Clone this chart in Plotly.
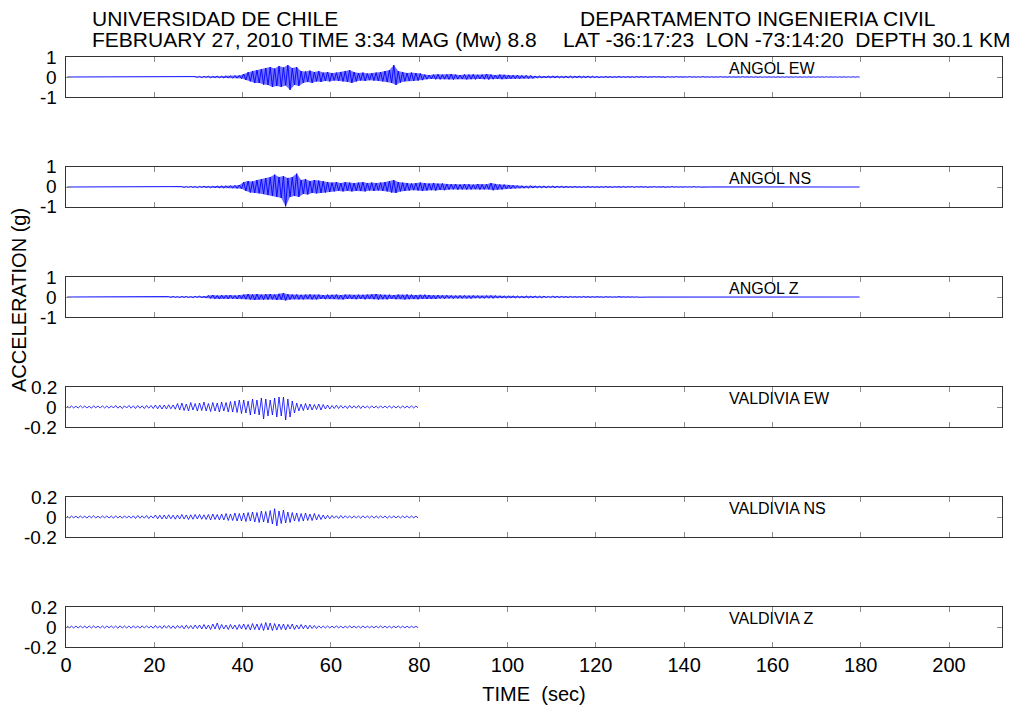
import numpy as np
import plotly.graph_objects as go

# Peak acceleration (g) per 1-second window: positive peak and negative peak.
# ANGOL records: 180 s, VALDIVIA records: 80 s.
angol_ew_up = [
    0, 0, 0, 0, 0, 0, 0, 0, 0, 0,
    0, 0, 0, 0, 0, 0, 0, 0, 0, 0,
    0, 0, 0, 0, 0, 0, 0, 0, 0, 0.02,
    0.03, 0.03, 0.04, 0.03, 0.05, 0.04, 0.06, 0.05, 0.07, 0.08,
    0.15, 0.25, 0.3, 0.35, 0.4, 0.45, 0.5, 0.42, 0.55, 0.48,
    0.6, 0.45, 0.5, 0.3, 0.28, 0.32, 0.25, 0.3, 0.22, 0.25,
    0.2, 0.22, 0.25, 0.3, 0.35, 0.25, 0.2, 0.22, 0.18, 0.2,
    0.22, 0.25, 0.3, 0.35, 0.6, 0.3, 0.25, 0.2, 0.22, 0.2,
    0.18, 0.12, 0.1, 0.12, 0.14, 0.12, 0.13, 0.15, 0.12, 0.1,
    0.13, 0.12, 0.14, 0.11, 0.12, 0.15, 0.12, 0.1, 0.12, 0.11,
    0.1, 0.09, 0.1, 0.08, 0.09, 0.08, 0.05, 0.06, 0.04, 0.05,
    0.06, 0.05, 0.04, 0.05, 0.06, 0.04, 0.05, 0.04, 0.05, 0.04,
    0.03, 0.02, 0.03, 0.02, 0.02, 0.03, 0.02, 0.02, 0.02, 0.03,
    0.02, 0.02, 0.01, 0.02, 0.02, 0.01, 0.02, 0.01, 0.02, 0.01,
    0.01, 0.02, 0.01, 0.01, 0.02, 0.01, 0.01, 0.01, 0.02, 0.01,
    0.01, 0.01, 0.01, 0.02, 0.01, 0.01, 0.01, 0.01, 0.01, 0.01,
    0.01, 0.01, 0.01, 0.01, 0.01, 0.01, 0.01, 0.01, 0.01, 0.01,
    0.01, 0.01, 0.01, 0.01, 0.01, 0.01, 0.01, 0.01, 0.01, 0.01,
]
angol_ew_dn = [
    0, 0, 0, 0, 0, 0, 0, 0, 0, 0,
    0, 0, 0, 0, 0, 0, 0, 0, 0, 0,
    0, 0, 0, 0, 0, 0, 0, 0, 0, -0.02,
    -0.03, -0.02, -0.04, -0.03, -0.04, -0.05, -0.05, -0.06, -0.06, -0.08,
    -0.15, -0.22, -0.3, -0.3, -0.38, -0.4, -0.5, -0.45, -0.5, -0.42,
    -0.65, -0.4, -0.45, -0.3, -0.25, -0.3, -0.22, -0.25, -0.2, -0.22,
    -0.18, -0.2, -0.22, -0.25, -0.3, -0.22, -0.18, -0.2, -0.16, -0.18,
    -0.2, -0.22, -0.25, -0.3, -0.4, -0.28, -0.22, -0.2, -0.2, -0.18,
    -0.16, -0.11, -0.1, -0.12, -0.12, -0.11, -0.12, -0.13, -0.11, -0.1,
    -0.12, -0.11, -0.12, -0.1, -0.11, -0.13, -0.11, -0.1, -0.11, -0.1,
    -0.09, -0.08, -0.09, -0.07, -0.08, -0.07, -0.05, -0.05, -0.04, -0.05,
    -0.05, -0.04, -0.04, -0.05, -0.05, -0.04, -0.04, -0.04, -0.04, -0.03,
    -0.03, -0.02, -0.02, -0.02, -0.02, -0.02, -0.02, -0.02, -0.02, -0.02,
    -0.01, -0.02, -0.01, -0.01, -0.01, -0.02, -0.01, -0.01, -0.01, -0.01,
    -0.01, -0.01, -0.01, -0.01, -0.01, -0.01, -0.01, -0.01, -0.01, -0.01,
    -0.01, -0.01, -0.01, -0.01, -0.01, -0.01, -0.01, -0.01, -0.01, -0.01,
    -0.01, -0.01, -0.01, -0.01, -0.01, -0.01, -0.01, -0.01, -0.01, -0.01,
    -0.01, -0.01, -0.01, -0.01, -0.01, -0.01, -0.01, -0.01, -0.01, -0.01,
]
angol_ns_up = [
    0, 0, 0, 0, 0, 0, 0, 0, 0, 0,
    0, 0, 0, 0, 0, 0, 0, 0, 0, 0,
    0, 0, 0, 0, 0, 0, 0.02, 0.02, 0.03, 0.02,
    0.03, 0.04, 0.03, 0.04, 0.05, 0.05, 0.06, 0.07, 0.08, 0.1,
    0.25, 0.3, 0.28, 0.35, 0.4, 0.45, 0.5, 0.62, 0.5, 0.55,
    0.45, 0.5, 0.67, 0.35, 0.4, 0.3, 0.35, 0.32, 0.3, 0.25,
    0.22, 0.25, 0.2, 0.25, 0.22, 0.2, 0.22, 0.25, 0.2, 0.22,
    0.2, 0.22, 0.25, 0.3, 0.35, 0.25, 0.22, 0.2, 0.18, 0.2,
    0.22, 0.2, 0.18, 0.2, 0.17, 0.18, 0.15, 0.14, 0.15, 0.13,
    0.15, 0.14, 0.12, 0.15, 0.13, 0.14, 0.2, 0.15, 0.13, 0.12,
    0.1, 0.08, 0.07, 0.06, 0.05, 0.06, 0.05, 0.04, 0.05, 0.04,
    0.05, 0.04, 0.04, 0.03, 0.02, 0.03, 0.02, 0.02, 0.03, 0.02,
    0.02, 0.02, 0.03, 0.02, 0.02, 0.02, 0.03, 0.02, 0.02, 0.02,
    0.02, 0.02, 0.01, 0.02, 0.01, 0.02, 0.01, 0.02, 0.01, 0.01,
    0.01, 0.01, 0.02, 0.01, 0, 0, 0, 0, 0, 0,
    0, 0, 0, 0, 0, 0, 0, 0, 0, 0,
    0, 0, 0, 0, 0, 0, 0, 0, 0, 0,
    0, 0, 0, 0, 0, 0, 0, 0, 0, 0,
]
angol_ns_dn = [
    0, 0, 0, 0, 0, 0, 0, 0, 0, 0,
    0, 0, 0, 0, 0, 0, 0, 0, 0, 0,
    0, 0, 0, 0, 0, 0, -0.02, -0.02, -0.02, -0.03,
    -0.02, -0.03, -0.04, -0.03, -0.04, -0.05, -0.05, -0.06, -0.07, -0.09,
    -0.2, -0.28, -0.3, -0.32, -0.35, -0.4, -0.45, -0.5, -0.55, -0.97,
    -0.5, -0.45, -0.5, -0.35, -0.38, -0.3, -0.32, -0.3, -0.28, -0.25,
    -0.22, -0.2, -0.22, -0.2, -0.22, -0.2, -0.2, -0.22, -0.18, -0.2,
    -0.18, -0.2, -0.22, -0.28, -0.3, -0.22, -0.2, -0.18, -0.16, -0.18,
    -0.2, -0.18, -0.16, -0.18, -0.15, -0.16, -0.13, -0.12, -0.14, -0.12,
    -0.13, -0.12, -0.11, -0.13, -0.12, -0.12, -0.16, -0.13, -0.12, -0.1,
    -0.09, -0.07, -0.06, -0.05, -0.05, -0.05, -0.04, -0.04, -0.04, -0.03,
    -0.04, -0.03, -0.03, -0.02, -0.02, -0.02, -0.02, -0.02, -0.02, -0.02,
    -0.02, -0.02, -0.02, -0.02, -0.01, -0.02, -0.02, -0.01, -0.02, -0.01,
    -0.01, -0.02, -0.01, -0.01, -0.01, -0.02, -0.01, -0.01, -0.01, -0.01,
    -0.01, -0.01, -0.01, -0.01, 0, 0, 0, 0, 0, 0,
    0, 0, 0, 0, 0, 0, 0, 0, 0, 0,
    0, 0, 0, 0, 0, 0, 0, 0, 0, 0,
    0, 0, 0, 0, 0, 0, 0, 0, 0, 0,
]
angol_z_up = [
    0, 0, 0, 0, 0, 0, 0, 0, 0, 0,
    0, 0, 0, 0, 0, 0, 0, 0, 0, 0,
    0, 0, 0, 0.02, 0.03, 0.02, 0.03, 0.03, 0.02, 0.03,
    0.04, 0.03, 0.08, 0.1, 0.08, 0.1, 0.09, 0.1, 0.08, 0.1,
    0.12, 0.15, 0.13, 0.15, 0.12, 0.14, 0.15, 0.13, 0.16, 0.2,
    0.14, 0.12, 0.13, 0.11, 0.12, 0.13, 0.11, 0.12, 0.1, 0.12,
    0.11, 0.12, 0.1, 0.12, 0.11, 0.1, 0.12, 0.11, 0.12, 0.13,
    0.15, 0.12, 0.11, 0.12, 0.1, 0.12, 0.11, 0.13, 0.12, 0.1,
    0.11, 0.12, 0.1, 0.09, 0.1, 0.08, 0.09, 0.08, 0.07, 0.08,
    0.08, 0.07, 0.08, 0.07, 0.06, 0.07, 0.08, 0.07, 0.06, 0.05,
    0.05, 0.06, 0.05, 0.04, 0.05, 0.04, 0.05, 0.04, 0.04, 0.03,
    0.04, 0.03, 0.03, 0.02, 0.03, 0.02, 0.02, 0.03, 0.02, 0.02,
    0.02, 0.01, 0.02, 0.01, 0.01, 0.02, 0.01, 0.01, 0.01, 0.01,
    0, 0, 0, 0, 0, 0, 0, 0, 0, 0,
    0, 0, 0, 0, 0, 0, 0, 0, 0, 0,
    0, 0, 0, 0, 0, 0, 0, 0, 0, 0,
    0, 0, 0, 0, 0, 0, 0, 0, 0, 0,
    0, 0, 0, 0, 0, 0, 0, 0, 0, 0,
]
angol_z_dn = [
    0, 0, 0, 0, 0, 0, 0, 0, 0, 0,
    0, 0, 0, 0, 0, 0, 0, 0, 0, 0,
    0, 0, 0, -0.02, -0.02, -0.03, -0.02, -0.03, -0.03, -0.02,
    -0.03, -0.04, -0.07, -0.09, -0.1, -0.08, -0.1, -0.09, -0.1, -0.09,
    -0.11, -0.13, -0.15, -0.12, -0.14, -0.13, -0.12, -0.15, -0.14, -0.17,
    -0.13, -0.11, -0.12, -0.12, -0.1, -0.12, -0.12, -0.1, -0.11, -0.1,
    -0.1, -0.11, -0.12, -0.1, -0.1, -0.11, -0.1, -0.12, -0.1, -0.11,
    -0.13, -0.11, -0.12, -0.1, -0.11, -0.1, -0.12, -0.11, -0.1, -0.11,
    -0.1, -0.1, -0.09, -0.1, -0.08, -0.09, -0.07, -0.08, -0.07, -0.07,
    -0.07, -0.08, -0.06, -0.07, -0.07, -0.06, -0.07, -0.06, -0.05, -0.05,
    -0.05, -0.05, -0.04, -0.05, -0.04, -0.04, -0.04, -0.04, -0.03, -0.03,
    -0.03, -0.03, -0.02, -0.03, -0.02, -0.02, -0.02, -0.02, -0.02, -0.02,
    -0.01, -0.02, -0.01, -0.01, -0.01, -0.01, -0.01, -0.01, -0.01, -0.01,
    0, 0, 0, 0, 0, 0, 0, 0, 0, 0,
    0, 0, 0, 0, 0, 0, 0, 0, 0, 0,
    0, 0, 0, 0, 0, 0, 0, 0, 0, 0,
    0, 0, 0, 0, 0, 0, 0, 0, 0, 0,
    0, 0, 0, 0, 0, 0, 0, 0, 0, 0,
]
valdivia_ew_up = [
    0.008, 0.01, 0.008, 0.012, 0.01, 0.008, 0.012, 0.01, 0.012, 0.01,
    0.012, 0.015, 0.01, 0.012, 0.015, 0.012, 0.015, 0.012, 0.015, 0.015,
    0.02, 0.018, 0.02, 0.022, 0.02, 0.035, 0.04, 0.03, 0.045, 0.035,
    0.04, 0.05, 0.035, 0.045, 0.04, 0.05, 0.045, 0.055, 0.06, 0.07,
    0.07, 0.06, 0.08, 0.07, 0.09, 0.08, 0.07, 0.09, 0.1, 0.1,
    0.08, 0.06, 0.04, 0.03, 0.035, 0.03, 0.025, 0.03, 0.025, 0.02,
    0.015, 0.018, 0.015, 0.012, 0.015, 0.012, 0.015, 0.012, 0.01, 0.012,
    0.01, 0.012, 0.01, 0.012, 0.01, 0.01, 0.012, 0.01, 0.012, 0.01,
]
valdivia_ew_dn = [
    -0.008, -0.01, -0.01, -0.008, -0.01, -0.012, -0.008, -0.01, -0.01, -0.012,
    -0.01, -0.012, -0.015, -0.01, -0.012, -0.015, -0.012, -0.015, -0.012, -0.015,
    -0.018, -0.02, -0.02, -0.018, -0.022, -0.03, -0.035, -0.04, -0.03, -0.04,
    -0.035, -0.04, -0.045, -0.04, -0.05, -0.04, -0.05, -0.05, -0.055, -0.065,
    -0.06, -0.08, -0.07, -0.08, -0.12, -0.09, -0.08, -0.1, -0.09, -0.13,
    -0.1, -0.06, -0.04, -0.035, -0.03, -0.03, -0.025, -0.03, -0.02, -0.02,
    -0.015, -0.015, -0.012, -0.015, -0.012, -0.012, -0.015, -0.01, -0.012, -0.01,
    -0.012, -0.01, -0.01, -0.012, -0.01, -0.012, -0.01, -0.01, -0.01, -0.008,
]
valdivia_ns_up = [
    0.008, 0.01, 0.008, 0.01, 0.008, 0.01, 0.012, 0.008, 0.01, 0.01,
    0.01, 0.012, 0.01, 0.012, 0.01, 0.012, 0.015, 0.012, 0.015, 0.012,
    0.02, 0.018, 0.02, 0.022, 0.018, 0.02, 0.025, 0.02, 0.022, 0.025,
    0.025, 0.022, 0.025, 0.03, 0.025, 0.03, 0.035, 0.03, 0.04, 0.035,
    0.04, 0.045, 0.05, 0.045, 0.06, 0.055, 0.065, 0.083, 0.06, 0.07,
    0.05, 0.045, 0.04, 0.035, 0.04, 0.03, 0.035, 0.025, 0.02, 0.018,
    0.015, 0.012, 0.015, 0.012, 0.01, 0.012, 0.01, 0.012, 0.01, 0.012,
    0.01, 0.012, 0.01, 0.01, 0.012, 0.01, 0.01, 0.012, 0.01, 0.008,
]
valdivia_ns_dn = [
    -0.01, -0.008, -0.01, -0.008, -0.01, -0.008, -0.01, -0.01, -0.008, -0.01,
    -0.012, -0.01, -0.012, -0.01, -0.012, -0.015, -0.012, -0.012, -0.015, -0.012,
    -0.018, -0.02, -0.02, -0.018, -0.022, -0.02, -0.02, -0.025, -0.022, -0.02,
    -0.022, -0.025, -0.03, -0.025, -0.03, -0.03, -0.035, -0.035, -0.04, -0.04,
    -0.045, -0.04, -0.05, -0.055, -0.05, -0.06, -0.07, -0.09, -0.065, -0.06,
    -0.055, -0.04, -0.045, -0.04, -0.035, -0.035, -0.03, -0.025, -0.02, -0.018,
    -0.012, -0.015, -0.012, -0.01, -0.012, -0.01, -0.012, -0.01, -0.01, -0.012,
    -0.01, -0.01, -0.012, -0.01, -0.01, -0.01, -0.008, -0.01, -0.008, -0.008,
]
valdivia_z_up = [
    0.01, 0.008, 0.01, 0.01, 0.008, 0.01, 0.01, 0.008, 0.01, 0.01,
    0.01, 0.01, 0.012, 0.01, 0.01, 0.012, 0.01, 0.012, 0.012, 0.01,
    0.015, 0.012, 0.015, 0.015, 0.012, 0.015, 0.015, 0.018, 0.015, 0.02,
    0.02, 0.025, 0.02, 0.03, 0.04, 0.025, 0.02, 0.025, 0.02, 0.025,
    0.03, 0.025, 0.035, 0.03, 0.035, 0.045, 0.04, 0.035, 0.03, 0.03,
    0.025, 0.03, 0.02, 0.025, 0.02, 0.018, 0.015, 0.012, 0.01, 0.01,
    0.008, 0.01, 0.008, 0.008, 0.01, 0.008, 0.008, 0.01, 0.008, 0.008,
    0.008, 0.01, 0.008, 0.008, 0.008, 0.01, 0.008, 0.008, 0.008, 0.006,
]
valdivia_z_dn = [
    -0.008, -0.01, -0.01, -0.008, -0.01, -0.01, -0.008, -0.01, -0.01, -0.008,
    -0.01, -0.012, -0.01, -0.01, -0.012, -0.01, -0.012, -0.01, -0.01, -0.012,
    -0.012, -0.015, -0.012, -0.015, -0.015, -0.012, -0.018, -0.015, -0.018, -0.015,
    -0.02, -0.02, -0.025, -0.02, -0.025, -0.02, -0.025, -0.02, -0.025, -0.02,
    -0.025, -0.03, -0.025, -0.03, -0.035, -0.03, -0.035, -0.03, -0.025, -0.03,
    -0.02, -0.025, -0.02, -0.018, -0.02, -0.015, -0.015, -0.012, -0.01, -0.01,
    -0.008, -0.008, -0.01, -0.008, -0.008, -0.008, -0.01, -0.008, -0.008, -0.008,
    -0.008, -0.008, -0.008, -0.01, -0.008, -0.008, -0.008, -0.008, -0.006, -0.006,
]

station_names = ["ANGOL EW", "ANGOL NS", "ANGOL Z",
                 "VALDIVIA EW", "VALDIVIA NS", "VALDIVIA Z"]
peaks_up = [angol_ew_up, angol_ns_up, angol_z_up,
            valdivia_ew_up, valdivia_ns_up, valdivia_z_up]
peaks_dn = [angol_ew_dn, angol_ns_dn, angol_z_dn,
            valdivia_ew_dn, valdivia_ns_dn, valdivia_z_dn]
y_limits = [1, 1, 1, 0.2, 0.2, 0.2]
y_tick_text = [["-1", "0", "1"]] * 3 + [["-0.2", "0", "0.2"]] * 3
x_ticks = [0, 20, 40, 60, 80, 100, 120, 140, 160, 180, 200]

# page geometry (pixels)
W, H = 1022, 707
L, R, T, B = 66, 20, 57, 60
PW, PH = W - L - R, H - T - B
PANEL_H, PANEL_STEP = 40, 110


def px_x(p):
    return (p - L) / PW


def px_y(p):
    return (H - B - p) / PH


FONT = "Liberation Sans, Arial, Helvetica, sans-serif"
BLUE = "#0000ff"
fig = go.Figure()

for k in range(6):
    up, dn = peaks_up[k], peaks_dn[k]
    t_up = [i + 0.25 for i in range(len(up))]
    t_dn = [i + 0.75 for i in range(len(dn))]
    xs, ys = [], []
    for i in range(len(up)):
        xs += [t_up[i], t_dn[i]]
        ys += [up[i], dn[i]]
    suffix = "" if k == 0 else str(k + 1)
    if k < 3:
        # dense strong-motion record: shade the band between the peaks
        fig.add_trace(go.Scatter(
            x=t_up + t_dn[::-1], y=list(up) + list(dn)[::-1],
            mode="lines", fill="toself", fillcolor="rgba(0,0,255,0.55)",
            line=dict(width=0), xaxis="x" + suffix, yaxis="y" + suffix,
            showlegend=False, hoverinfo="skip",
        ))
    fig.add_trace(go.Scatter(
        x=xs, y=ys, mode="lines", xaxis="x" + suffix, yaxis="y" + suffix,
        line=dict(color=BLUE, width=0.9 if k < 3 else 0.8),
        showlegend=False, hoverinfo="skip",
    ))

    top = T + k * PANEL_STEP
    bot = top + PANEL_H
    lim = y_limits[k]
    y_ticks = [-lim, 0, lim]
    fig.layout["xaxis" + suffix] = dict(
        domain=[0, 1], range=[0, 212], anchor="y" + suffix,
        tickvals=x_ticks, ticks="inside", ticklen=5, tickcolor="#8c8c8c",
        tickwidth=1, showline=True, linecolor="#333333", linewidth=1,
        mirror="ticks", showgrid=False, zeroline=False,
        showticklabels=(k == 5),
        tickfont=dict(family=FONT, size=20, color="#000000"),
        title=dict(text="TIME  (sec)" if k == 5 else "",
                   font=dict(family=FONT, size=20, color="#000000"),
                   standoff=11),
    )
    fig.layout["yaxis" + suffix] = dict(
        domain=[px_y(bot), px_y(top)], range=[-lim, lim],
        anchor="x" + suffix, tickvals=y_ticks,
        ticks="inside", ticklen=5, tickcolor="#8c8c8c", tickwidth=1,
        showline=True, linecolor="#333333", linewidth=1, mirror="ticks",
        showgrid=False, zeroline=False, showticklabels=False,
    )
    # y tick labels, right-aligned just left of the frame
    for val, lab in zip(y_ticks, y_tick_text[k]):
        fig.add_annotation(
            text=lab, x=px_x(58), y=val, xref="paper", yref="y" + suffix,
            xanchor="right", yanchor="middle", showarrow=False, borderpad=0,
            font=dict(family=FONT, size=19, color="#000000"),
        )
    fig.add_annotation(
        text=station_names[k], x=149.6, y=0.42 * lim,
        xref="x" + suffix, yref="y" + suffix, xanchor="left",
        yanchor="middle", showarrow=False,
        font=dict(family=FONT, size=16, color="#000000"),
    )

head = [
    ("UNIVERSIDAD DE CHILE", 90, 18),
    ("DEPARTAMENTO INGENIERIA CIVIL", 578, 18),
    ("FEBRUARY 27, 2010 TIME 3:34 MAG (Mw) 8.8", 90, 39),
    ("LAT -36:17:23&nbsp;&nbsp;LON -73:14:20&nbsp;&nbsp;DEPTH 30.1 KM", 561, 39),
]
for txt, px, py in head:
    fig.add_annotation(
        text=txt, x=px_x(px), y=px_y(py),
        xref="paper", yref="paper", xanchor="left", yanchor="middle",
        showarrow=False, font=dict(family=FONT, size=21, color="#000000"),
    )

fig.add_annotation(
    text="ACCELERATION (g)", x=px_x(19), y=px_y(300), xref="paper",
    yref="paper", xanchor="center", yanchor="middle", textangle=-90,
    showarrow=False, font=dict(family=FONT, size=20, color="#000000"),
)

fig.update_layout(
    width=W, height=H, margin=dict(l=L, r=R, t=T, b=B, autoexpand=False),
    paper_bgcolor="#ffffff", plot_bgcolor="#ffffff", showlegend=False,
)

fig.write_html("out.html", config={"displayModeBar": False})
